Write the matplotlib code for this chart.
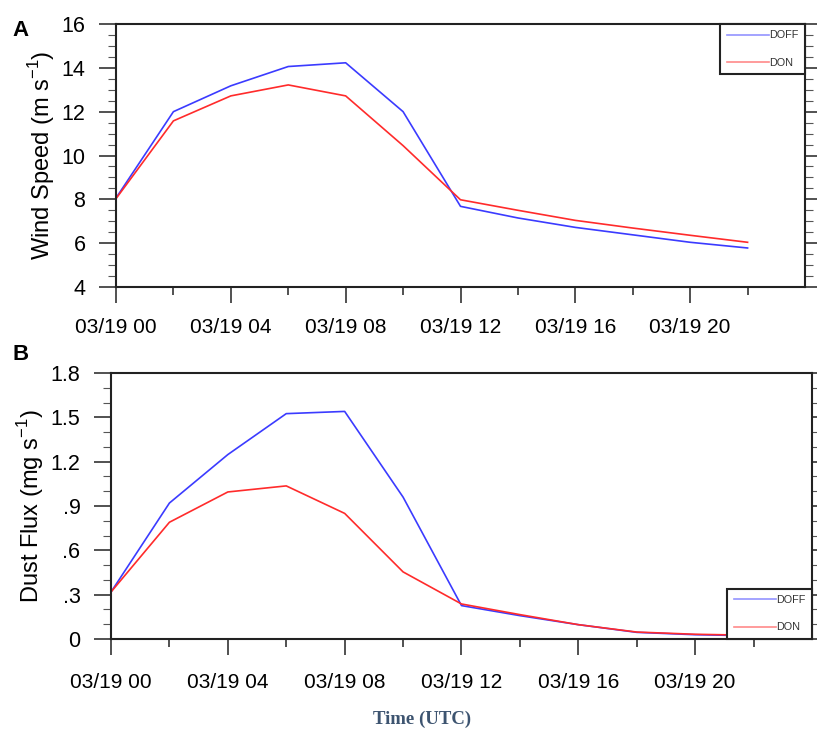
import matplotlib.pyplot as plt
from matplotlib.lines import Line2D
from matplotlib.ticker import MultipleLocator

plt.rcParams['font.family'] = ['Liberation Sans', 'DejaVu Sans']
plt.rcParams['mathtext.fontset'] = 'custom'
plt.rcParams['mathtext.rm'] = 'Liberation Sans'

# hours after 03/19 00 UTC
hours = [0, 2, 4, 6, 8, 10, 12, 14, 16, 18, 20, 22]

wind_doff = [8.06, 12.0, 13.18, 14.06, 14.23, 12.0, 7.68, 7.15, 6.72, 6.38, 6.04, 5.78]
wind_don = [8.03, 11.58, 12.72, 13.22, 12.72, 10.45, 7.98, 7.5, 7.04, 6.69, 6.36, 6.04]

dust_doff = [0.318, 0.92, 1.248, 1.525, 1.54, 0.96, 0.226, 0.158, 0.097, 0.045, 0.029, 0.022]
dust_don = [0.318, 0.79, 0.995, 1.036, 0.85, 0.454, 0.237, 0.165, 0.097, 0.047, 0.032, 0.025]

xtick_pos = [0, 4, 8, 12, 16, 20]
xtick_labels = ['03/19 00', '03/19 04', '03/19 08', '03/19 12', '03/19 16', '03/19 20']
dust_ticks = [0, 0.3, 0.6, 0.9, 1.2, 1.5, 1.8]
dust_tick_labels = ['0', '.3', '.6', '.9', '1.2', '1.5', '1.8']

blue = '#3b3bff'
red = '#ff2b2b'

fig = plt.figure(figsize=(8.17, 7.29), dpi=100)
ax1 = fig.add_axes([116/817, 1-287/729, (805-116)/817, (287-24)/729])
ax2 = fig.add_axes([111/817, 1-639/729, (812-111)/817, (639-373)/729])


def style(ax, xpad):
    ax.set_xlim(0, 24)
    ax.set_xticks(xtick_pos)
    ax.set_xticklabels(xtick_labels)
    ax.set_xticks([2, 6, 10, 14, 18, 22], minor=True)
    for s in ax.spines.values():
        s.set_linewidth(1.5)
        s.set_color('#222222')
    ax.tick_params(axis='x', which='major', direction='out', length=11.5, width=1.2,
                   labelsize=15, pad=xpad, color='#333333')
    ax.tick_params(axis='x', which='minor', direction='out', length=6, width=1.2,
                   color='#333333')
    ax.tick_params(axis='y', which='major', direction='out', length=12, width=1.2,
                   labelsize=15.5, pad=10, right=True, color='#333333')
    ax.tick_params(axis='y', which='minor', direction='out', length=5.5, width=0.8,
                   right=True, color='#555555')


def legend(ax, loc):
    h = [Line2D([], [], color=blue, lw=1.2, alpha=0.55),
         Line2D([], [], color=red, lw=1.2, alpha=0.55)]
    lg = ax.legend(h, ['DOFF', 'DON'], loc=loc, borderaxespad=0, fancybox=False,
                   edgecolor='#222222', framealpha=1, handlelength=3.9,
                   handletextpad=0, fontsize=7.8, labelspacing=1.6, borderpad=0.6)
    lg.get_frame().set_linewidth(1.5)
    for t in lg.get_texts():
        t.set_color('#333333')


# panel A
ax1.plot(hours, wind_doff, color=blue, lw=1.2)
ax1.plot(hours, wind_don, color=red, lw=1.2)
style(ax1, 11)
ax1.set_ylim(4, 16)
ax1.set_yticks([4, 6, 8, 10, 12, 14, 16])
ax1.yaxis.set_minor_locator(MultipleLocator(0.5))
ax1.set_ylabel('Wind Speed (m s$^{\\mathregular{-1}}$)', fontsize=17, labelpad=3)
legend(ax1, 'upper right')

# panel B
ax2.plot(hours, dust_doff, color=blue, lw=1.2)
ax2.plot(hours, dust_don, color=red, lw=1.2)
style(ax2, 13)
ax2.set_ylim(0, 1.8)
ax2.set_yticks(dust_ticks)
ax2.set_yticklabels(dust_tick_labels)
ax2.yaxis.set_minor_locator(MultipleLocator(0.1))
ax2.set_ylabel('Dust Flux (mg s$^{\\mathregular{-1}}$)', fontsize=17, labelpad=3)
legend(ax2, 'lower right')

fig.text(12/817, 1-30/729, 'A', fontsize=16, fontweight='bold', va='center')
fig.text(12/817, 1-355/729, 'B', fontsize=16, fontweight='bold', va='center')
fig.text(422/817, 1-719/729, 'Time (UTC)', fontsize=13.5, fontweight='bold',
         family='Liberation Serif', color='#3d5470', ha='center', va='center')

fig.savefig('out.png', dpi=100)
